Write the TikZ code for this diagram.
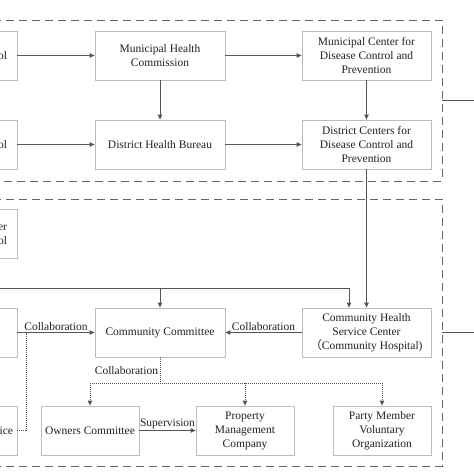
\documentclass[tikz,border=0pt]{standalone}
\usepackage{fontspec}
\setmainfont{Liberation Serif}
\newfontfamily\cjkfont{Noto Sans CJK SC}
\usetikzlibrary{arrows.meta,calc}
\definecolor{boxgray}{HTML}{BDBDBD}
\definecolor{linec}{HTML}{555555}
\definecolor{dashc}{HTML}{666666}
\definecolor{textc}{HTML}{222222}
\begin{document}
\begin{tikzpicture}[x=1pt,y=-1pt,
  box/.style={draw=boxgray, line width=0.8pt, fill=white, minimum height=49pt,
    text=textc, align=center, inner sep=2pt, font=\fontsize{11.5}{14}\selectfont},
  arr/.style={draw=linec, line width=0.9pt, -{Triangle[length=5pt,width=4.5pt]}},
  plain/.style={draw=linec, line width=0.9pt},
  dotl/.style={draw=linec, line width=0.8pt, dash pattern=on 1pt off 1pt},
  dotarr/.style={dotl, -{Triangle[length=5pt,width=4.5pt]}},
  grp/.style={draw=dashc, line width=0.9pt, dash pattern=on 8pt off 5pt},
  lbl/.style={text=textc, font=\fontsize{11.5}{14}\selectfont, inner sep=1.5pt}]
\useasboundingbox (0,0) rectangle (474,474);
% group frames
\draw[grp] (-20,20) -- (442,20) -- (442,181) -- (-20,181);
\draw[grp] (-20,199) -- (442,199) -- (442,466) -- (-20,466);
\coordinate (s1a) at (442,100); \coordinate (s1b) at (480,100);
\coordinate (s2a) at (442,332); \coordinate (s2b) at (480,332);
\draw[plain] (s1a) -- (s1b);
\draw[plain] (s2a) -- (s2b);
% left (cut) boxes
\node[box, minimum width=77pt, text width=57pt, align=right] (L1) at (-21.5,55.5) {Control};
\node[box, minimum width=77pt, text width=57pt, align=right] (L2) at (-21.5,144.5) {Control};
\node[box, minimum width=77pt, text width=57pt, align=right] (L3) at (-21.5,233.5) {Leader\\Control};
\node[box, minimum width=77pt] (L4) at (-21.5,332.5) {};
\node[box, minimum width=77pt, text width=69pt, align=right] (L5) at (-21.5,430.5) {Service};
% main boxes
\node[box, minimum width=130pt] (MHC) at (160,55.5) {Municipal Health\\Commission};
\node[box, minimum width=129pt] (MCDC) at (366.5,55.5) {Municipal Center for\\Disease Control and\\Prevention};
\node[box, minimum width=130pt] (DHB) at (160,144.5) {District Health Bureau};
\node[box, minimum width=129pt] (DCDC) at (366.5,144.5) {District Centers for\\Disease Control and\\Prevention};
\node[box, minimum width=130pt] (CC) at (160,332.5) {Community Committee};
\node[box, minimum width=129pt] (CHSC) at (366.5,332.5) {Community Health\\Service Center\\{\cjkfont （}Community Hospital)};
\node[box, minimum width=98pt] (OC) at (90,430.5) {Owners Committee};
\node[box, minimum width=98pt] (PMC) at (245,430.5) {Property\\Management\\Company};
\node[box, minimum width=98pt] (PMVO) at (382,430.5) {Party Member\\Voluntary\\Organization};
% connectors
\draw[arr] (L1) -- (MHC);
\draw[arr] (MHC) -- (MCDC);
\draw[arr] (MHC) -- (DHB);
\draw[arr] (MCDC) -- (DCDC);
\draw[arr] (L2) -- (DHB);
\draw[arr] (DHB) -- (DCDC);
\draw[arr] (DCDC) -- (CHSC);
\coordinate (bus) at (-10,288);
\coordinate (busCC) at (160,288);
\draw[arr] (bus) -| ($(CHSC.north)+(-17.5,0)$);
\draw[arr] (busCC) -- (CC);
\draw[arr] (CHSC) -- node[lbl, above] {Collaboration} (CC);
\draw[arr] (L4) -- node[lbl, above] {Collaboration} (CC);
\coordinate (dj) at (26,332.5);
\draw[dotl] (L5.east) -| (dj);
\coordinate (cc1) at (160,383);
\draw[dotl] (CC.south) -- node[lbl, left] {Collaboration} (cc1);
\coordinate (dl) at (90,383);
\coordinate (dm) at (245,383);
\coordinate (dr) at (382,383);
\draw[dotl] (dl) -- (dr);
\draw[dotarr] (dl) -- (OC.north);
\draw[dotarr] (dm) -- (PMC.north);
\draw[dotarr] (dr) -- (PMVO.north);
\draw[arr] (OC) -- node[lbl, above] {Supervision} (PMC);
\end{tikzpicture}
\end{document}
